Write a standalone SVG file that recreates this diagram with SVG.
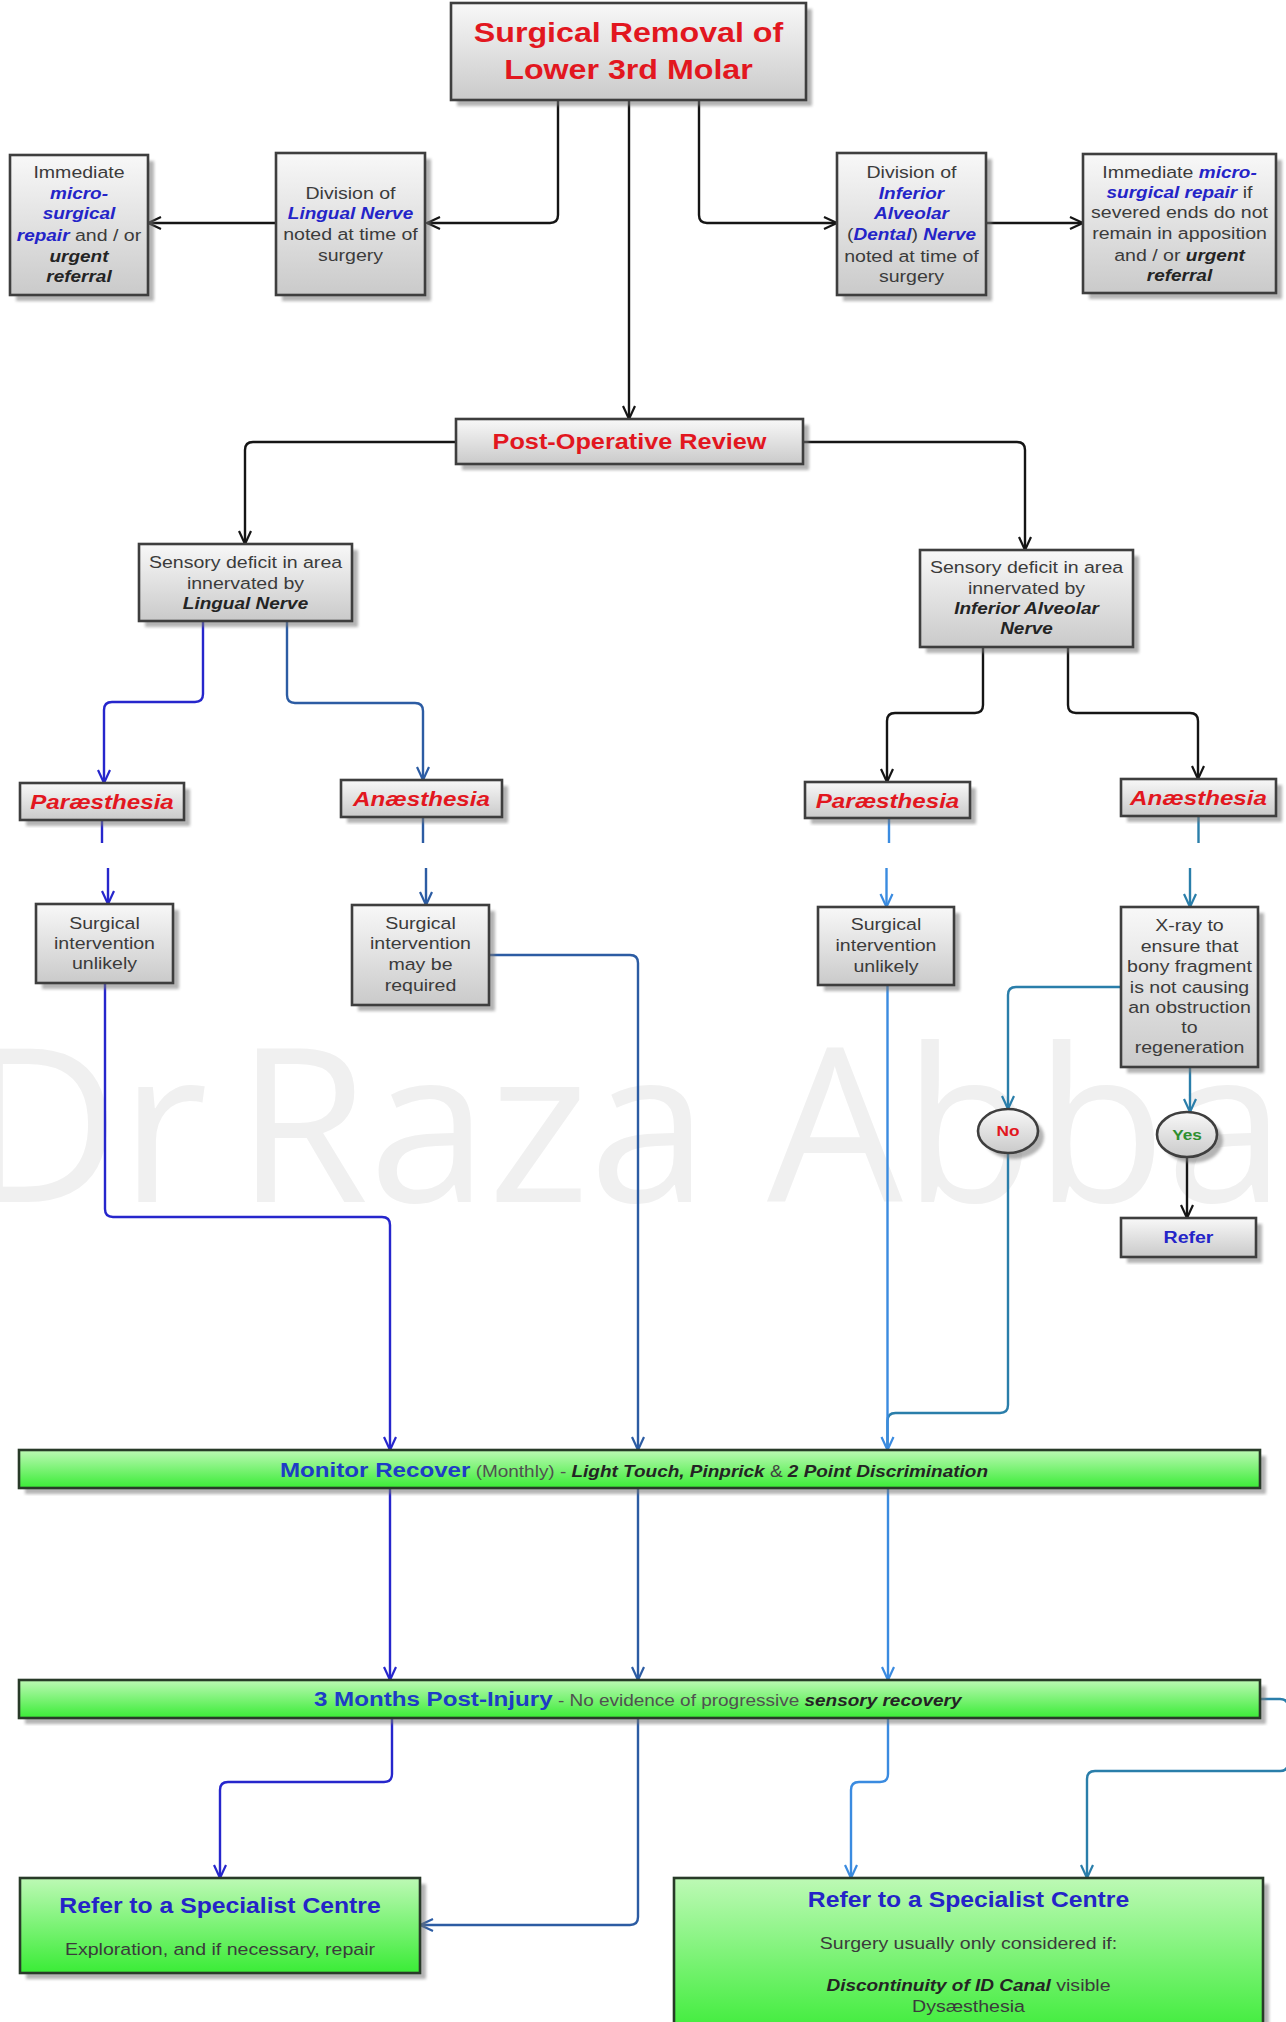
<svg xmlns="http://www.w3.org/2000/svg" width="1286" height="2022" viewBox="0 0 1286 2022">
<defs>
<style>
text{font-family:"Liberation Sans",Arial,sans-serif}
.m{text-anchor:middle}
.g{font-size:17px;fill:#3b3b3b}
.bi{font-weight:bold;font-style:italic;font-size:16.5px}
.big{font-size:21px}
.b{font-weight:bold}
.blu{fill:#2424c8}
.blu2{fill:#1e3cc6}
.dk{fill:#242424}
.red{fill:#e2171f}
.grn{fill:#2f8f2f}
.box{fill:url(#gg);stroke:#3e3e3e;stroke-width:2.6}
.gbox{fill:url(#gr);stroke:#283a28;stroke-width:2.6}
.sh{fill:#777;opacity:.55;filter:url(#bl)}
.c{fill:none;stroke-width:2.4;stroke-linejoin:round}
.k{stroke:#151515}
.l1{stroke:#2626cc}
.l2{stroke:#2c5ca3}
.l3{stroke:#3a8be0}
.l4{stroke:#2a7eaa}
.wm{font-family:"Open Sans","Liberation Sans",sans-serif;font-size:215px;fill:#f0f0f0}
</style>
<linearGradient id="gg" x1="0" y1="0" x2="0" y2="1"><stop offset="0" stop-color="#f8f8f8"/><stop offset="1" stop-color="#cacaca"/></linearGradient>
<linearGradient id="gr" x1="0" y1="0" x2="0" y2="1"><stop offset="0" stop-color="#bdf9b5"/><stop offset="1" stop-color="#3aec36"/></linearGradient>
<filter id="bl" x="-5%" y="-5%" width="110%" height="110%"><feGaussianBlur stdDeviation="1.5"/></filter>
<marker id="mk" markerUnits="userSpaceOnUse" markerWidth="16" markerHeight="16" viewBox="0 0 16 16" refX="14" refY="8" orient="auto"><path d="M1,2 L14,8 L1,14" fill="none" stroke="#151515" stroke-width="2.2"/></marker>
<marker id="m1" markerUnits="userSpaceOnUse" markerWidth="16" markerHeight="16" viewBox="0 0 16 16" refX="14" refY="8" orient="auto"><path d="M1,2 L14,8 L1,14" fill="none" stroke="#2626cc" stroke-width="2.2"/></marker>
<marker id="m2" markerUnits="userSpaceOnUse" markerWidth="16" markerHeight="16" viewBox="0 0 16 16" refX="14" refY="8" orient="auto"><path d="M1,2 L14,8 L1,14" fill="none" stroke="#2c5ca3" stroke-width="2.2"/></marker>
<marker id="m3" markerUnits="userSpaceOnUse" markerWidth="16" markerHeight="16" viewBox="0 0 16 16" refX="14" refY="8" orient="auto"><path d="M1,2 L14,8 L1,14" fill="none" stroke="#3a8be0" stroke-width="2.2"/></marker>
<marker id="m4" markerUnits="userSpaceOnUse" markerWidth="16" markerHeight="16" viewBox="0 0 16 16" refX="14" refY="8" orient="auto"><path d="M1,2 L14,8 L1,14" fill="none" stroke="#2a7eaa" stroke-width="2.2"/></marker>
</defs>
<rect width="1286" height="2022" fill="#ffffff"/>
<text class="wm" y="1202"><tspan x="-36">Dr</tspan> <tspan x="236">Raza</tspan> <tspan x="767">Abbas</tspan></text>

<g id="connectors">
<path class="c k" d="M558,100 V215 Q558,223 550,223 H427" marker-end="url(#mk)"/>
<path class="c k" d="M629,100 V419" marker-end="url(#mk)"/>
<path class="c k" d="M699,100 V215 Q699,223 707,223 H837" marker-end="url(#mk)"/>
<path class="c k" d="M276,223 H148" marker-end="url(#mk)"/>
<path class="c k" d="M986,223 H1083" marker-end="url(#mk)"/>
<path class="c k" d="M456,442 H253 Q245,442 245,450 V544" marker-end="url(#mk)"/>
<path class="c k" d="M803,442 H1017 Q1025,442 1025,450 V550" marker-end="url(#mk)"/>
<path class="c k" d="M983,647 V705 Q983,713 975,713 H895 Q887,713 887,721 V782" marker-end="url(#mk)"/>
<path class="c k" d="M1068,647 V705 Q1068,713 1076,713 H1190 Q1198,713 1198,721 V779" marker-end="url(#mk)"/>
<path class="c k" d="M1187,1157 V1218" marker-end="url(#mk)"/>

<path class="c l1" d="M203,621 V694 Q203,702 195,702 H112 Q104,702 104,710 V783" marker-end="url(#m1)"/>
<path class="c l1" d="M102,820 V843"/>
<path class="c l1" d="M108,868 V904" marker-end="url(#m1)"/>
<path class="c l1" d="M105,983 V1209 Q105,1217 113,1217 H382 Q390,1217 390,1225 V1450" marker-end="url(#m1)"/>
<path class="c l1" d="M390,1488 V1680" marker-end="url(#m1)"/>
<path class="c l1" d="M392,1718 V1774 Q392,1782 384,1782 H228 Q220,1782 220,1790 V1878" marker-end="url(#m1)"/>

<path class="c l2" d="M287,621 V695 Q287,703 295,703 H415 Q423,703 423,711 V780" marker-end="url(#m2)"/>
<path class="c l2" d="M423,817 V843"/>
<path class="c l2" d="M426,868 V905" marker-end="url(#m2)"/>
<path class="c l2" d="M489,955 H630 Q638,955 638,963 V1450" marker-end="url(#m2)"/>
<path class="c l2" d="M638,1488 V1680" marker-end="url(#m2)"/>
<path class="c l2" d="M638,1718 V1917 Q638,1925 630,1925 H420" marker-end="url(#m2)"/>

<path class="c l3" d="M889,818 V843"/>
<path class="c l3" d="M886.5,868 V907" marker-end="url(#m3)"/>
<path class="c l4" d="M1008,1153 V1405 Q1008,1413 1000,1413 H895.5 Q887.5,1413 887.5,1421 V1450"/>
<path class="c l3" d="M887.5,985 V1450" marker-end="url(#m3)"/>
<path class="c l3" d="M888,1488 V1680" marker-end="url(#m3)"/>
<path class="c l3" d="M888,1718 V1774 Q888,1782 880,1782 H859 Q851,1782 851,1790 V1878" marker-end="url(#m3)"/>

<path class="c l4" d="M1198.5,816 V843"/>
<path class="c l4" d="M1190,868 V907" marker-end="url(#m4)"/>
<path class="c l4" d="M1121,987 H1016 Q1008,987 1008,995 V1109" marker-end="url(#m4)"/>
<path class="c l4" d="M1190,1067 V1112" marker-end="url(#m4)"/>
<path class="c l4" d="M1260,1699 H1280 Q1288,1699 1288,1707 V1763 Q1288,1771 1280,1771 H1095 Q1087,1771 1087,1779 V1878" marker-end="url(#m4)"/>
</g>

<g id="n-title">
<rect class="sh" x="457" y="9" width="355" height="97"/><rect class="box" x="451" y="3" width="355" height="97"/>
<g transform="translate(628.5 0) scale(1.15 1)">
<text class="m b red" font-size="28" y="42">Surgical Removal of</text>
<text class="m b red" font-size="28" y="79">Lower 3rd Molar</text>
</g></g>

<g id="n-lingual-repair">
<rect class="sh" x="16" y="161" width="138" height="140"/><rect class="box" x="10" y="155" width="138" height="140"/>
<g transform="translate(79 0) scale(1.15 1)">
<text class="m g" y="178">Immediate</text>
<text class="m bi blu" y="199">micro-</text>
<text class="m bi blu" y="219">surgical</text>
<text class="m g" y="241"><tspan class="bi blu">repair</tspan> and / or</text>
<text class="m bi dk" y="262">urgent</text>
<text class="m bi dk" y="282">referral</text>
</g></g>

<g id="n-lingual-division">
<rect class="sh" x="282" y="159" width="149" height="142"/><rect class="box" x="276" y="153" width="149" height="142"/>
<g transform="translate(350.5 0) scale(1.15 1)">
<text class="m g" y="199">Division of</text>
<text class="m bi blu" y="219">Lingual Nerve</text>
<text class="m g" y="240">noted at time of</text>
<text class="m g" y="261">surgery</text>
</g></g>

<g id="n-ian-division">
<rect class="sh" x="843" y="159" width="149" height="142"/><rect class="box" x="837" y="153" width="149" height="142"/>
<g transform="translate(911.5 0) scale(1.15 1)">
<text class="m g" y="178">Division of</text>
<text class="m bi blu" y="199">Inferior</text>
<text class="m bi blu" y="219">Alveolar</text>
<text class="m g" y="240">(<tspan class="bi blu">Dental</tspan>) <tspan class="bi blu">Nerve</tspan></text>
<text class="m g" y="262">noted at time of</text>
<text class="m g" y="282">surgery</text>
</g></g>

<g id="n-ian-repair">
<rect class="sh" x="1089" y="160" width="193" height="139"/><rect class="box" x="1083" y="154" width="193" height="139"/>
<g transform="translate(1179.5 0) scale(1.15 1)">
<text class="m g" y="178">Immediate <tspan class="bi blu">micro-</tspan></text>
<text class="m g" y="198"><tspan class="bi blu">surgical repair</tspan> if</text>
<text class="m g" y="218">severed ends do not</text>
<text class="m g" y="239">remain in apposition</text>
<text class="m g" y="261">and / or <tspan class="bi dk">urgent</tspan></text>
<text class="m bi dk" y="281">referral</text>
</g></g>

<g id="n-review">
<rect class="sh" x="462" y="425" width="347" height="45"/><rect class="box" x="456" y="419" width="347" height="45"/>
<g transform="translate(629.5 0) scale(1.15 1)">
<text class="m b red" font-size="22" y="449">Post-Operative Review</text>
</g></g>

<g id="n-lingual-deficit">
<rect class="sh" x="145" y="550" width="213" height="77"/><rect class="box" x="139" y="544" width="213" height="77"/>
<g transform="translate(245.5 0) scale(1.15 1)">
<text class="m g" y="568">Sensory deficit in area</text>
<text class="m g" y="589">innervated by</text>
<text class="m bi dk" y="609">Lingual Nerve</text>
</g></g>

<g id="n-ian-deficit">
<rect class="sh" x="926" y="556" width="213" height="97"/><rect class="box" x="920" y="550" width="213" height="97"/>
<g transform="translate(1026.5 0) scale(1.15 1)">
<text class="m g" y="573">Sensory deficit in area</text>
<text class="m g" y="594">innervated by</text>
<text class="m bi dk" y="614">Inferior Alveolar</text>
<text class="m bi dk" y="634">Nerve</text>
</g></g>

<g id="n-lingual-par">
<rect class="sh" x="26" y="789" width="164" height="37"/><rect class="box" x="20" y="783" width="164" height="37"/>
<g transform="translate(102 0) scale(1.15 1)"><text class="m bi big red" y="809">Paræsthesia</text></g>
</g>
<g id="n-lingual-ana">
<rect class="sh" x="347" y="786" width="161" height="37"/><rect class="box" x="341" y="780" width="161" height="37"/>
<g transform="translate(421.5 0) scale(1.15 1)"><text class="m bi big red" y="806">Anæsthesia</text></g>
</g>
<g id="n-ian-par">
<rect class="sh" x="811" y="788" width="165" height="36"/><rect class="box" x="805" y="782" width="165" height="36"/>
<g transform="translate(887.5 0) scale(1.15 1)"><text class="m bi big red" y="808">Paræsthesia</text></g>
</g>
<g id="n-ian-ana">
<rect class="sh" x="1127" y="785" width="155" height="37"/><rect class="box" x="1121" y="779" width="155" height="37"/>
<g transform="translate(1198.5 0) scale(1.15 1)"><text class="m bi big red" y="805">Anæsthesia</text></g>
</g>

<g id="n-lingual-unlikely">
<rect class="sh" x="42" y="910" width="137" height="79"/><rect class="box" x="36" y="904" width="137" height="79"/>
<g transform="translate(104.5 0) scale(1.15 1)">
<text class="m g" y="929">Surgical</text>
<text class="m g" y="949">intervention</text>
<text class="m g" y="969">unlikely</text>
</g></g>

<g id="n-lingual-required">
<rect class="sh" x="358" y="911" width="137" height="100"/><rect class="box" x="352" y="905" width="137" height="100"/>
<g transform="translate(420.5 0) scale(1.15 1)">
<text class="m g" y="929">Surgical</text>
<text class="m g" y="949">intervention</text>
<text class="m g" y="970">may be</text>
<text class="m g" y="991">required</text>
</g></g>

<g id="n-ian-unlikely">
<rect class="sh" x="824" y="913" width="136" height="78"/><rect class="box" x="818" y="907" width="136" height="78"/>
<g transform="translate(886 0) scale(1.15 1)">
<text class="m g" y="930">Surgical</text>
<text class="m g" y="951">intervention</text>
<text class="m g" y="972">unlikely</text>
</g></g>

<g id="n-xray">
<rect class="sh" x="1127" y="913" width="137" height="160"/><rect class="box" x="1121" y="907" width="137" height="160"/>
<g transform="translate(1189.5 0) scale(1.15 1)">
<text class="m g" y="931">X-ray to</text>
<text class="m g" y="952">ensure that</text>
<text class="m g" y="972">bony fragment</text>
<text class="m g" y="993">is not causing</text>
<text class="m g" y="1013">an obstruction</text>
<text class="m g" y="1033">to</text>
<text class="m g" y="1053">regeneration</text>
</g></g>

<g id="n-no">
<ellipse class="sh" cx="1014" cy="1137" rx="30" ry="22"/><ellipse class="box" cx="1008" cy="1131" rx="30" ry="22"/>
<g transform="translate(1008 0) scale(1.15 1)"><text class="m b red" font-size="15" y="1136.5">No</text></g>
</g>
<g id="n-yes">
<ellipse class="sh" cx="1193" cy="1140.5" rx="30" ry="22.5"/><ellipse class="box" cx="1187" cy="1134.5" rx="30" ry="22.5"/>
<g transform="translate(1187 0) scale(1.15 1)"><text class="m b grn" font-size="15" y="1140">Yes</text></g>
</g>
<g id="n-refer-small">
<rect class="sh" x="1127" y="1224" width="135" height="39"/><rect class="box" x="1121" y="1218" width="135" height="39"/>
<g transform="translate(1188.5 0) scale(1.15 1)"><text class="m b blu" font-size="17" y="1243">Refer</text></g>
</g>

<g id="n-monitor">
<rect class="sh" x="25" y="1456" width="1241" height="38"/><rect class="gbox" x="19" y="1450" width="1241" height="38"/>
<g transform="translate(280 0) scale(1.15 1)">
<text y="1477"><tspan class="b blu2" font-size="21">Monitor Recover</tspan><tspan font-size="16.5" fill="#505050"> (Monthly) - </tspan><tspan class="bi dk">Light Touch, Pinprick</tspan><tspan font-size="16.5" fill="#404040"> &amp; </tspan><tspan class="bi dk">2 Point Discrimination</tspan></text>
</g></g>

<g id="n-3months">
<rect class="sh" x="25" y="1686" width="1241" height="38"/><rect class="gbox" x="19" y="1680" width="1241" height="38"/>
<g transform="translate(314 0) scale(1.15 1)">
<text y="1706"><tspan class="b blu2" font-size="21">3 Months Post-Injury</tspan><tspan font-size="16.5" fill="#505050"> - No evidence of progressive </tspan><tspan class="bi dk">sensory recovery</tspan></text>
</g></g>

<g id="n-refer-lingual">
<rect class="sh" x="26" y="1884" width="400" height="95"/><rect class="gbox" x="20" y="1878" width="400" height="95"/>
<g transform="translate(220 0) scale(1.15 1)">
<text class="m b blu" font-size="21.5" y="1913">Refer to a Specialist Centre</text>
<text class="m g" y="1955">Exploration, and if necessary, repair</text>
</g></g>

<g id="n-refer-ian">
<rect class="sh" x="680" y="1884" width="589" height="160"/><rect class="gbox" x="674" y="1878" width="589" height="160"/>
<g transform="translate(968.5 0) scale(1.15 1)">
<text class="m b blu" font-size="21.5" y="1907">Refer to a Specialist Centre</text>
<text class="m g" y="1949">Surgery usually only considered if:</text>
<text class="m g" y="1991"><tspan class="bi dk">Discontinuity of ID Canal</tspan> visible</text>
<text class="m g" y="2012">Dysæsthesia</text>
</g></g>
</svg>
